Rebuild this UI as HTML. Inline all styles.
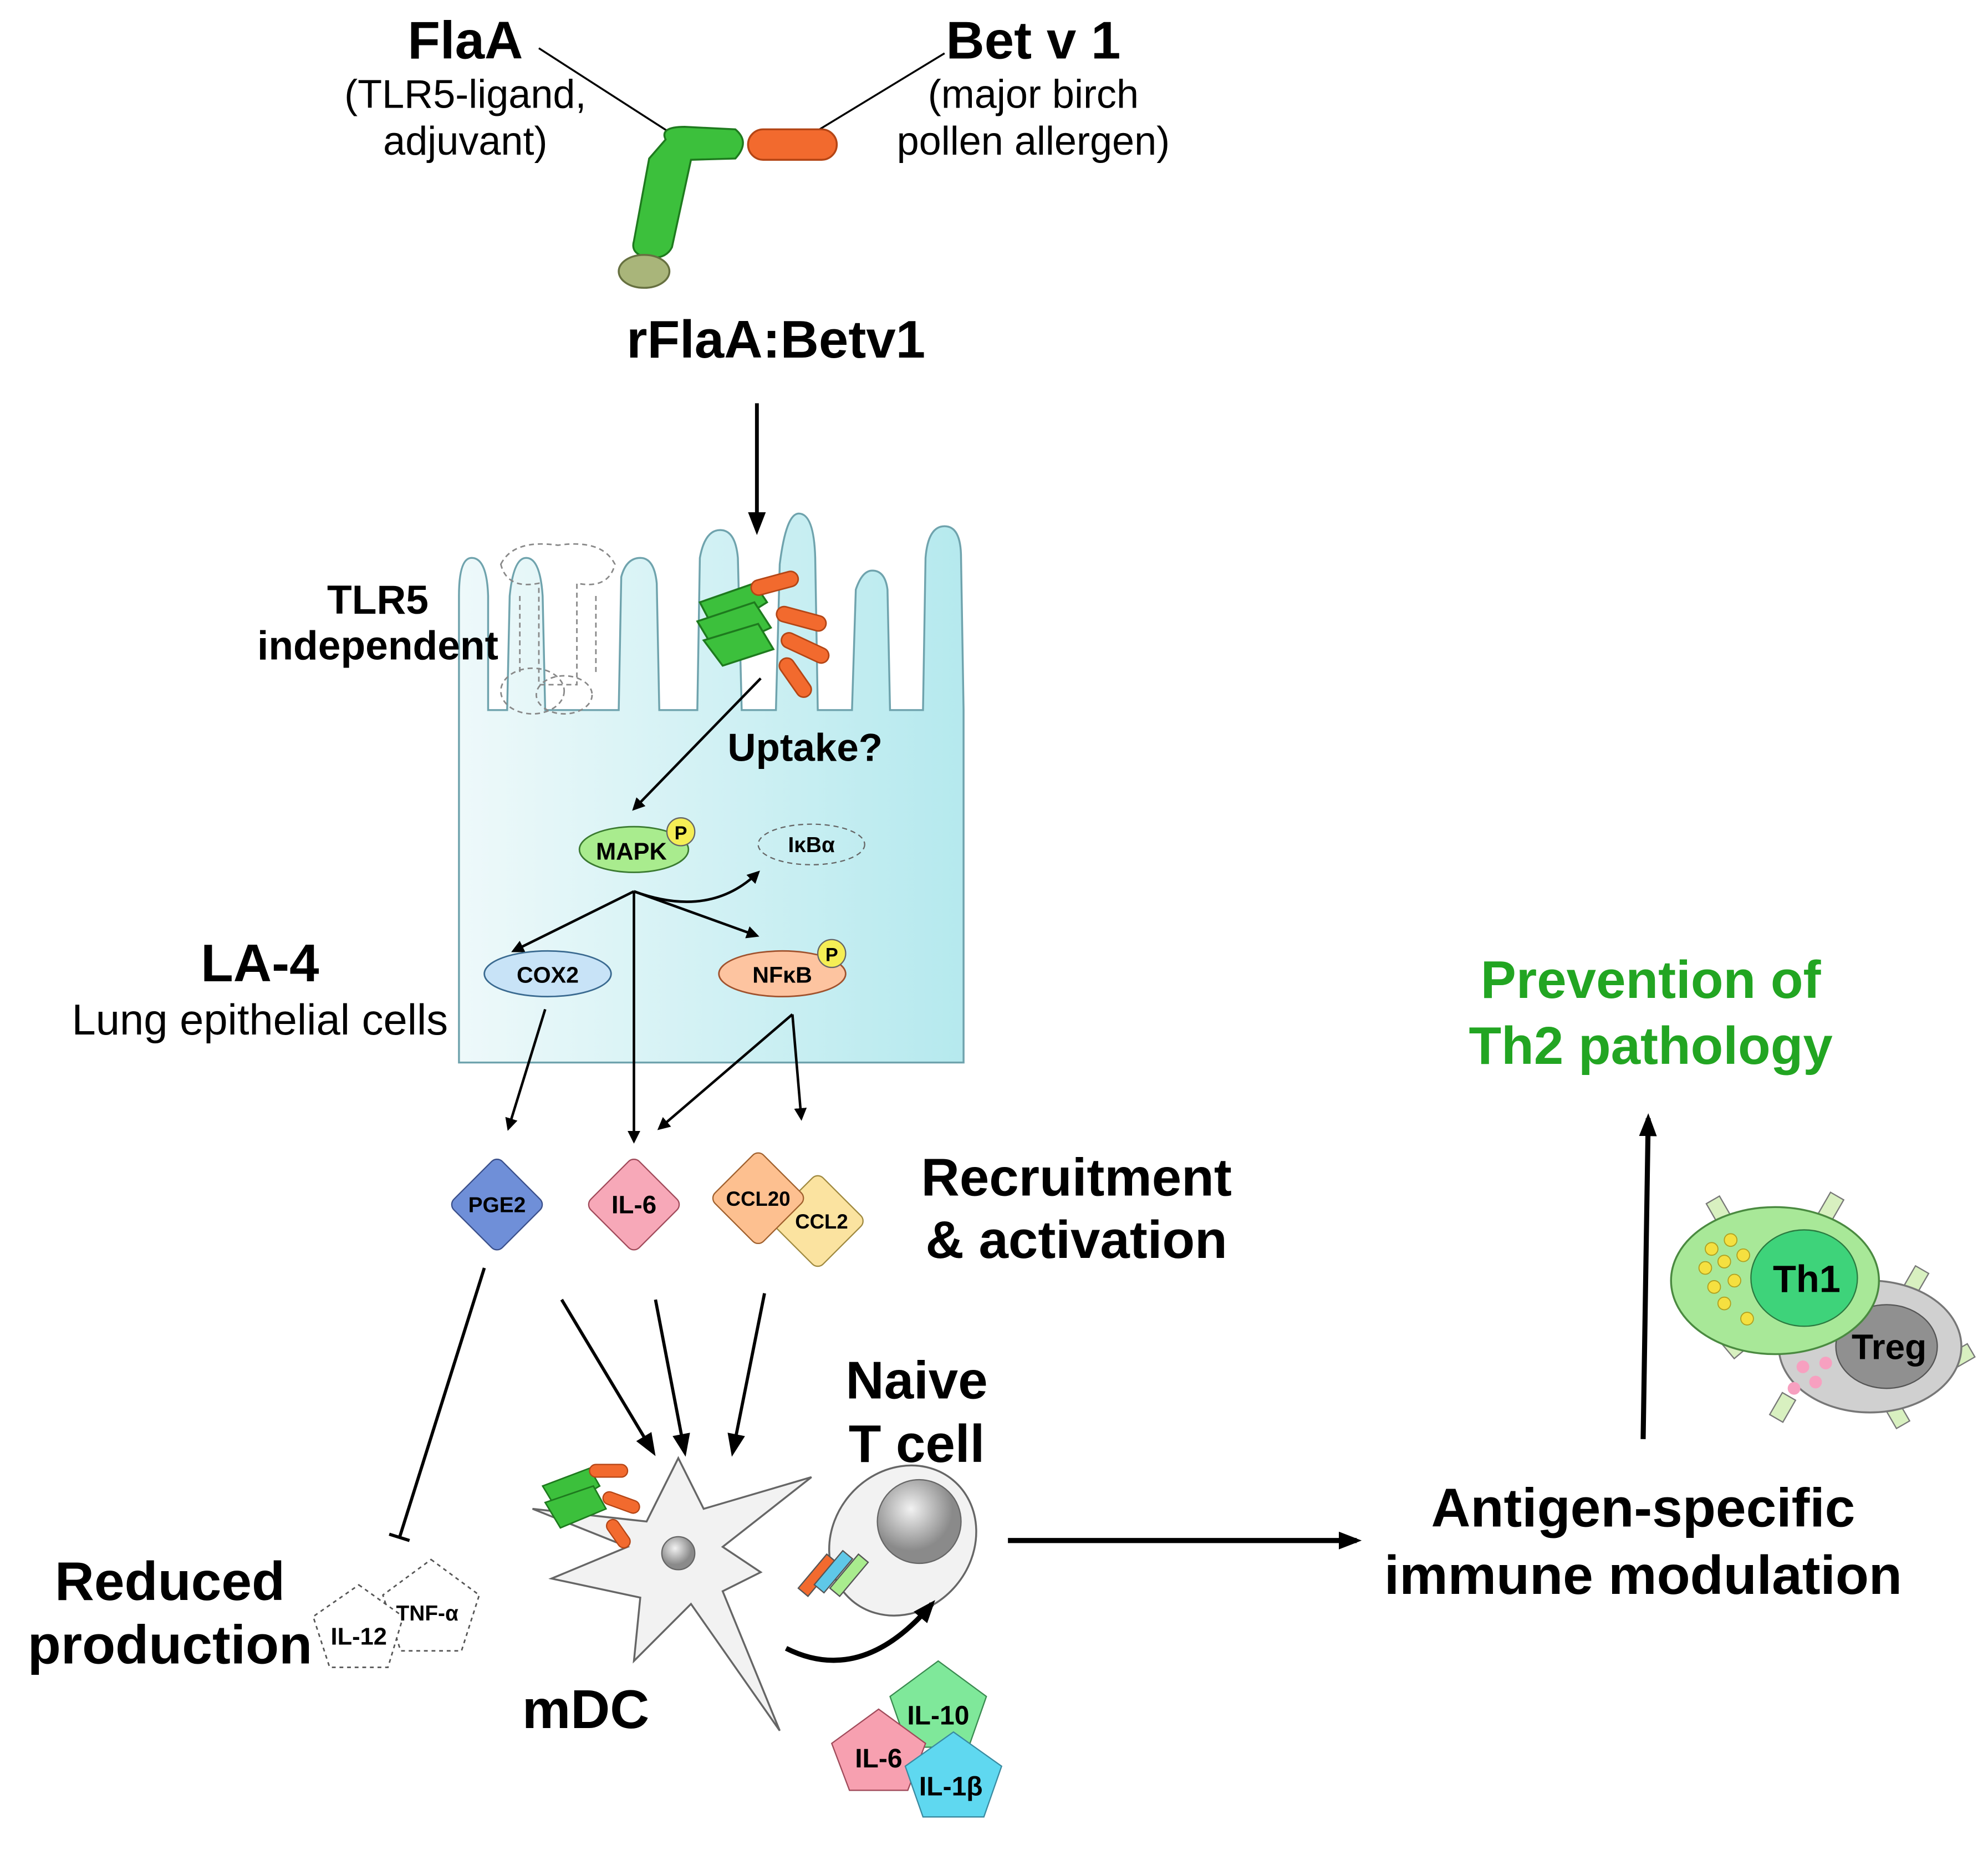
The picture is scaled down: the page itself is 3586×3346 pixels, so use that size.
<!DOCTYPE html>
<html><head><meta charset="utf-8"><style>
html,body{margin:0;padding:0;background:#fff}
svg{display:block}
text{font-family:"Liberation Sans",sans-serif;text-anchor:middle}
.b{font-weight:bold}
</style></head><body>
<svg width="3586" height="3346" viewBox="0 0 1568 1463" xmlns="http://www.w3.org/2000/svg">
<defs>
<marker id="ar" markerWidth="10" markerHeight="10" refX="8" refY="5" orient="auto" markerUnits="userSpaceOnUse"><path d="M0,0 L10,5 L0,10 z" fill="#000"/></marker>
<marker id="arL" markerWidth="18" markerHeight="14" refX="14" refY="7" orient="auto" markerUnits="userSpaceOnUse"><path d="M0,0 L18,7 L0,14 z" fill="#000"/></marker>
<linearGradient id="cell" x1="0" y1="0" x2="1" y2="0"><stop offset="0" stop-color="#eef9fa"/><stop offset="1" stop-color="#b5e9ee"/></linearGradient>
<radialGradient id="gr" cx="0.4" cy="0.35"><stop offset="0" stop-color="#f2f2f2"/><stop offset="1" stop-color="#8a8a8a"/></radialGradient>
</defs>
<text x="367" y="46" class="b" font-size="42">FlaA</text>
<text x="367" y="85" font-size="31.5">(TLR5-ligand,</text>
<text x="367" y="122" font-size="31.5">adjuvant)</text>
<text x="815" y="46" class="b" font-size="42">Bet v 1</text>
<text x="815" y="85" font-size="31.5">(major birch</text>
<text x="815" y="122" font-size="31.5">pollen allergen)</text>
<line x1="425" y1="38" x2="540" y2="112" stroke="#000" stroke-width="1.5"/>
<line x1="745" y1="42" x2="625" y2="115" stroke="#000" stroke-width="1.5"/>
<path d="M525,110 Q520,100 540,100 L580,102 Q592,112 580,125 L545,126 L530,195 Q525,205 510,203 Q497,200 500,190 L512,125 Z" fill="#3cc03c" stroke="#1e7a1e" stroke-width="1.5"/>
<rect x="590" y="102" width="70" height="24" rx="12" fill="#f26a2e" stroke="#b44515" stroke-width="1.5"/>
<ellipse cx="508" cy="214" rx="20" ry="13" fill="#a9b57a" stroke="#667040" stroke-width="1.5"/>
<text x="612" y="282" class="b" font-size="42">rFlaA:Betv1</text>
<line x1="597" y1="318" x2="597" y2="418" stroke="#000" stroke-width="3" marker-end="url(#arL)"/>
<path d="M362,838 L362,470 Q362,440 372,440 Q384,440 385,470 L385,560 L400,560 L402,470 Q405,440 415,440 Q426,440 428,470 L430,560 L488,560 L490,455 Q494,440 505,440 Q516,440 518,460 L520,560 L550,560 L552,440 Q556,418 568,418 Q580,418 582,440 L585,560 L612,560 L615,445 Q620,405 630,405 Q642,405 643,440 L645,560 L672,560 L675,465 Q680,450 688,450 Q698,450 700,465 L702,560 L728,560 L730,440 Q732,415 745,415 Q758,415 758,440 L760,560 L760,838 Z" fill="url(#cell)" stroke="#6fa3ad" stroke-width="1.5"/>
<g fill="none" stroke="#888" stroke-dasharray="4,3" stroke-width="1.2">
<path d="M395,445 Q405,425 440,430 Q475,425 485,445 Q480,465 455,460 L455,540 L425,540 L425,460 Q400,465 395,445Z"/>
<ellipse cx="420" cy="545" rx="25" ry="18"/><ellipse cx="445" cy="548" rx="22" ry="15"/>
<path d="M410,470 L410,530 M470,470 L470,530"/>
</g>
<text x="298" y="484" class="b" font-size="32">TLR5</text>
<text x="298" y="520" class="b" font-size="32">independent</text>
<g stroke="#1e7a1e" stroke-width="1.5">
<path d="M552,475 L595,460 L605,475 L565,500Z" fill="#3cc03c"/>
<path d="M550,490 L595,475 L608,495 L565,515Z" fill="#3cc03c"/>
<path d="M555,505 L598,492 L610,512 L570,525Z" fill="#3cc03c"/>
</g>
<g fill="#f26a2e" stroke="#b44515" stroke-width="1.2">
<rect x="592" y="454" width="38" height="12" rx="6" transform="rotate(-15 611 460)"/>
<rect x="612" y="482" width="40" height="12" rx="6" transform="rotate(15 632 488)"/>
<rect x="615" y="505" width="40" height="12" rx="6" transform="rotate(25 635 511)"/>
<rect x="610" y="528" width="35" height="12" rx="6" transform="rotate(55 627 534)"/>
</g>
<line x1="600" y1="535" x2="500" y2="638" stroke="#000" stroke-width="2" marker-end="url(#ar)"/>
<text x="635" y="600" class="b" font-size="31">Uptake?</text>
<ellipse cx="500" cy="670" rx="43" ry="18" fill="#a9ec8e" stroke="#3a7a30" stroke-width="1.2"/>
<text x="498" y="678" class="b" font-size="19">MAPK</text>
<circle cx="537" cy="656" r="11" fill="#f5ee55" stroke="#666"/><text x="537" y="662" class="b" font-size="15">P</text>
<ellipse cx="640" cy="666" rx="42" ry="16" fill="none" stroke="#666" stroke-dasharray="4,3"/>
<text x="640" y="672" class="b" font-size="17">IκBα</text>
<g stroke="#000" stroke-width="2" fill="none">
<line x1="500" y1="703" x2="405" y2="750" marker-end="url(#ar)"/>
<line x1="500" y1="703" x2="500" y2="900" marker-end="url(#ar)"/>
<line x1="500" y1="703" x2="597" y2="738" marker-end="url(#ar)"/>
<path d="M500,703 Q560,725 598,688" marker-end="url(#ar)"/>
<line x1="430" y1="796" x2="401" y2="890" marker-end="url(#ar)"/>
<line x1="625" y1="800" x2="520" y2="890" marker-end="url(#ar)"/>
<line x1="625" y1="800" x2="632" y2="882" marker-end="url(#ar)"/>
</g>
<ellipse cx="432" cy="768" rx="50" ry="18" fill="#c8e3f7" stroke="#3a6a90" stroke-width="1.2"/>
<text x="432" y="775" class="b" font-size="18">COX2</text>
<ellipse cx="617" cy="768" rx="50" ry="18" fill="#fdc4a0" stroke="#a0522d" stroke-width="1.2"/>
<text x="617" y="775" class="b" font-size="18">NFκB</text>
<circle cx="656" cy="752" r="11" fill="#f5ee55" stroke="#666"/><text x="656" y="758" class="b" font-size="15">P</text>
<text x="205" y="774" class="b" font-size="42">LA-4</text>
<text x="205" y="816" font-size="34">Lung epithelial cells</text>
<rect x="365" y="923" width="54" height="54" rx="6" transform="rotate(45 392 950)" fill="#6f8fd8" stroke="#3a4f8a"/>
<text x="392" y="956" class="b" font-size="17">PGE2</text>
<rect x="473" y="923" width="54" height="54" rx="6" transform="rotate(45 500 950)" fill="#f7a8b8" stroke="#a04a5a"/>
<text x="500" y="957" class="b" font-size="20">IL-6</text>
<rect x="618" y="936" width="54" height="54" rx="6" transform="rotate(45 645 963)" fill="#fbe3a0" stroke="#a08a40"/>
<rect x="571" y="918" width="54" height="54" rx="6" transform="rotate(45 598 945)" fill="#fdc090" stroke="#a0602d"/>
<text x="598" y="951" class="b" font-size="16">CCL20</text>
<text x="648" y="969" class="b" font-size="16">CCL2</text>
<text x="849" y="943" class="b" font-size="42">Recruitment</text>
<text x="849" y="992" class="b" font-size="42">&amp; activation</text>
<g stroke="#000" stroke-width="2.5" fill="none">
<line x1="382" y1="1000" x2="315" y2="1213"/>
<line x1="307" y1="1210" x2="323" y2="1215"/>
<line x1="443" y1="1025" x2="515" y2="1145" marker-end="url(#arL)"/>
<line x1="517" y1="1025" x2="540" y2="1145" marker-end="url(#arL)"/>
<line x1="603" y1="1020" x2="578" y2="1145" marker-end="url(#arL)"/>
</g>
<path d="M535,1150 L555,1190 L640,1165 L570,1220 L600,1240 L570,1255 L615,1365 L545,1265 L500,1310 L505,1260 L435,1245 L495,1220 L420,1190 L510,1200 Z" fill="#f2f2f2" stroke="#666" stroke-width="1.5"/>
<circle cx="535" cy="1225" r="13" fill="url(#gr)" stroke="#666"/>
<g stroke="#1e7a1e" stroke-width="1.2" fill="#3cc03c">
<path d="M428,1172 L465,1158 L473,1172 L440,1192Z"/><path d="M430,1185 L468,1172 L478,1190 L442,1205Z"/></g>
<g fill="#f26a2e" stroke="#b44515"><rect x="465" y="1155" width="30" height="10" rx="5"/><rect x="475" y="1180" width="30" height="10" rx="5" transform="rotate(20 490 1185)"/><rect x="475" y="1205" width="25" height="10" rx="5" transform="rotate(55 488 1210)"/></g>
<text x="462" y="1363" class="b" font-size="43">mDC</text>
<text x="723" y="1103" class="b" font-size="42">Naive</text>
<text x="723" y="1153" class="b" font-size="42">T cell</text>
<ellipse cx="712" cy="1215" rx="55" ry="62" fill="#f2f2f2" stroke="#666" stroke-width="1.5" transform="rotate(40 712 1215)"/>
<circle cx="725" cy="1200" r="33" fill="url(#gr)" stroke="#666"/>
<g stroke="#555" stroke-width="1">
<rect x="640" y="1225" width="10" height="35" fill="#f26a2e" transform="rotate(40 645 1242)"/>
<rect x="652" y="1222" width="10" height="35" fill="#5fc8e8" transform="rotate(40 657 1240)"/>
<rect x="665" y="1225" width="10" height="35" fill="#a9ec8e" transform="rotate(40 670 1242)"/>
</g>
<path d="M620,1300 Q680,1330 735,1265" fill="none" stroke="#000" stroke-width="4" marker-end="url(#arL)"/>
<polygon points="740,1310 778,1338 764,1378 716,1378 702,1338" fill="#7fe89a" stroke="#3a8a50"/>
<polygon points="693,1348 730,1375 716,1412 670,1412 656,1375" fill="#f7a0b0" stroke="#a04a5a"/>
<polygon points="752,1366 790,1393 776,1433 728,1433 714,1393" fill="#5fd8f0" stroke="#3a8aa0"/>
<text x="740" y="1360" class="b" font-size="21">IL-10</text>
<text x="693" y="1394" class="b" font-size="21">IL-6</text>
<text x="750" y="1416" class="b" font-size="21">IL-1β</text>
<text x="134" y="1262" class="b" font-size="43">Reduced</text>
<text x="134" y="1312" class="b" font-size="43">production</text>
<g fill="#fff" stroke="#555" stroke-dasharray="3,3" stroke-width="1.2">
<polygon points="340,1230 378,1258 364,1302 316,1302 302,1258"/>
<polygon points="283,1250 318,1275 306,1315 260,1315 247,1275"/>
</g>
<text x="337" y="1278" class="b" font-size="17">TNF-α</text>
<text x="283" y="1297" class="b" font-size="19">IL-12</text>
<line x1="795" y1="1215" x2="1070" y2="1215" stroke="#000" stroke-width="4" marker-end="url(#arL)"/>
<text x="1296" y="1204" class="b" font-size="43">Antigen-specific</text>
<text x="1296" y="1257" class="b" font-size="43">immune modulation</text>
<line x1="1296" y1="1135" x2="1300" y2="882" stroke="#000" stroke-width="4" marker-end="url(#arL)"/>
<text x="1302" y="787" class="b" font-size="42" fill="#22a522">Prevention of</text>
<text x="1302" y="839" class="b" font-size="42" fill="#22a522">Th2 pathology</text>
<g fill="#d8f0c0" stroke="#777">
<rect x="1330" y="985" width="12" height="20" transform="rotate(-60 1336 995)"/>
<rect x="1350" y="945" width="12" height="20" transform="rotate(-30 1356 955)"/>
<rect x="1438" y="942" width="12" height="20" transform="rotate(30 1444 952)"/>
<rect x="1505" y="1000" width="12" height="20" transform="rotate(30 1511 1010)"/>
<rect x="1540" y="1060" width="12" height="20" transform="rotate(60 1546 1070)"/>
<rect x="1490" y="1105" width="12" height="20" transform="rotate(-30 1496 1115)"/>
<rect x="1400" y="1100" width="12" height="20" transform="rotate(30 1406 1110)"/>
<rect x="1360" y="1050" width="12" height="20" transform="rotate(-40 1366 1060)"/>
</g>
<ellipse cx="1475" cy="1062" rx="72" ry="52" fill="#d0d0d0" stroke="#777" stroke-width="1.5"/>
<ellipse cx="1488" cy="1062" rx="40" ry="33" fill="#909090" stroke="#555"/>
<text x="1490" y="1072" class="b" font-size="28">Treg</text>
<g fill="#f7a0c0"><circle cx="1422" cy="1078" r="5"/><circle cx="1432" cy="1090" r="5"/><circle cx="1415" cy="1095" r="5"/><circle cx="1440" cy="1075" r="5"/></g>
<ellipse cx="1400" cy="1010" rx="82" ry="58" fill="#a8e898" stroke="#4a8a40" stroke-width="1.5"/>
<ellipse cx="1423" cy="1008" rx="42" ry="38" fill="#3ed37a" stroke="#2a7a40"/>
<text x="1425" y="1019" class="b" font-size="30">Th1</text>
<g fill="#f5e040" stroke="#b0a020" stroke-width="0.8"><circle cx="1350" cy="985" r="5"/><circle cx="1365" cy="978" r="5"/><circle cx="1345" cy="1000" r="5"/><circle cx="1360" cy="995" r="5"/><circle cx="1375" cy="990" r="5"/><circle cx="1352" cy="1015" r="5"/><circle cx="1368" cy="1010" r="5"/><circle cx="1360" cy="1028" r="5"/><circle cx="1378" cy="1040" r="5"/></g>
</svg>
</body></html>
